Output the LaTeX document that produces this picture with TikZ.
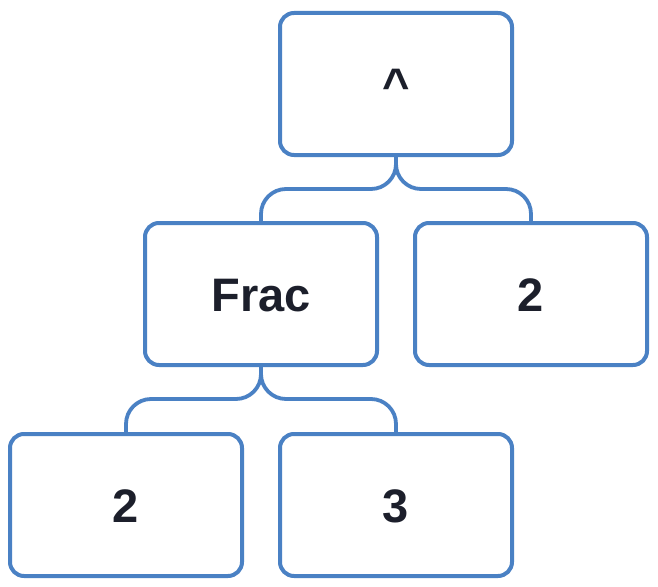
\documentclass[tikz,border=0pt]{standalone}
\usepackage{fontspec}
\setmainfont{Liberation Sans}
\definecolor{edge}{HTML}{4A81C4}
\definecolor{ink}{HTML}{1C1F2B}
\begin{document}
\begin{tikzpicture}[x=1pt,y=-1pt,
  box/.style={draw=edge, line width=4pt, rounded corners=14pt,
    minimum width=232pt, minimum height=142pt, inner sep=0pt, fill=white,
    text=ink, text height=34pt, text depth=0pt,
    font=\fontsize{47}{50}\selectfont\bfseries},
  link/.style={draw=edge, line width=3.8pt, rounded corners=25pt}]
\fill[white] (0,0) rectangle (658,586);
\useasboundingbox (0,0) rectangle (658,586);
\node[box] (top) at (396,84) {\textasciicircum};
\node[box] (frac) at (261,294) {Frac};
\node[box] (two) at (531,294) {2};
\node[box] (btwo) at (126,505) {2};
\node[box] (three) at (396,505) {3};
\coordinate (m1) at (396,189);
\coordinate (m2) at (261,399);
\draw[link] (top.south) -- (m1) -| (frac.north);
\draw[link] (top.south) -- (m1) -| (two.north);
\draw[link] (frac.south) -- (m2) -| (btwo.north);
\draw[link] (frac.south) -- (m2) -| (three.north);
\end{tikzpicture}
\end{document}
